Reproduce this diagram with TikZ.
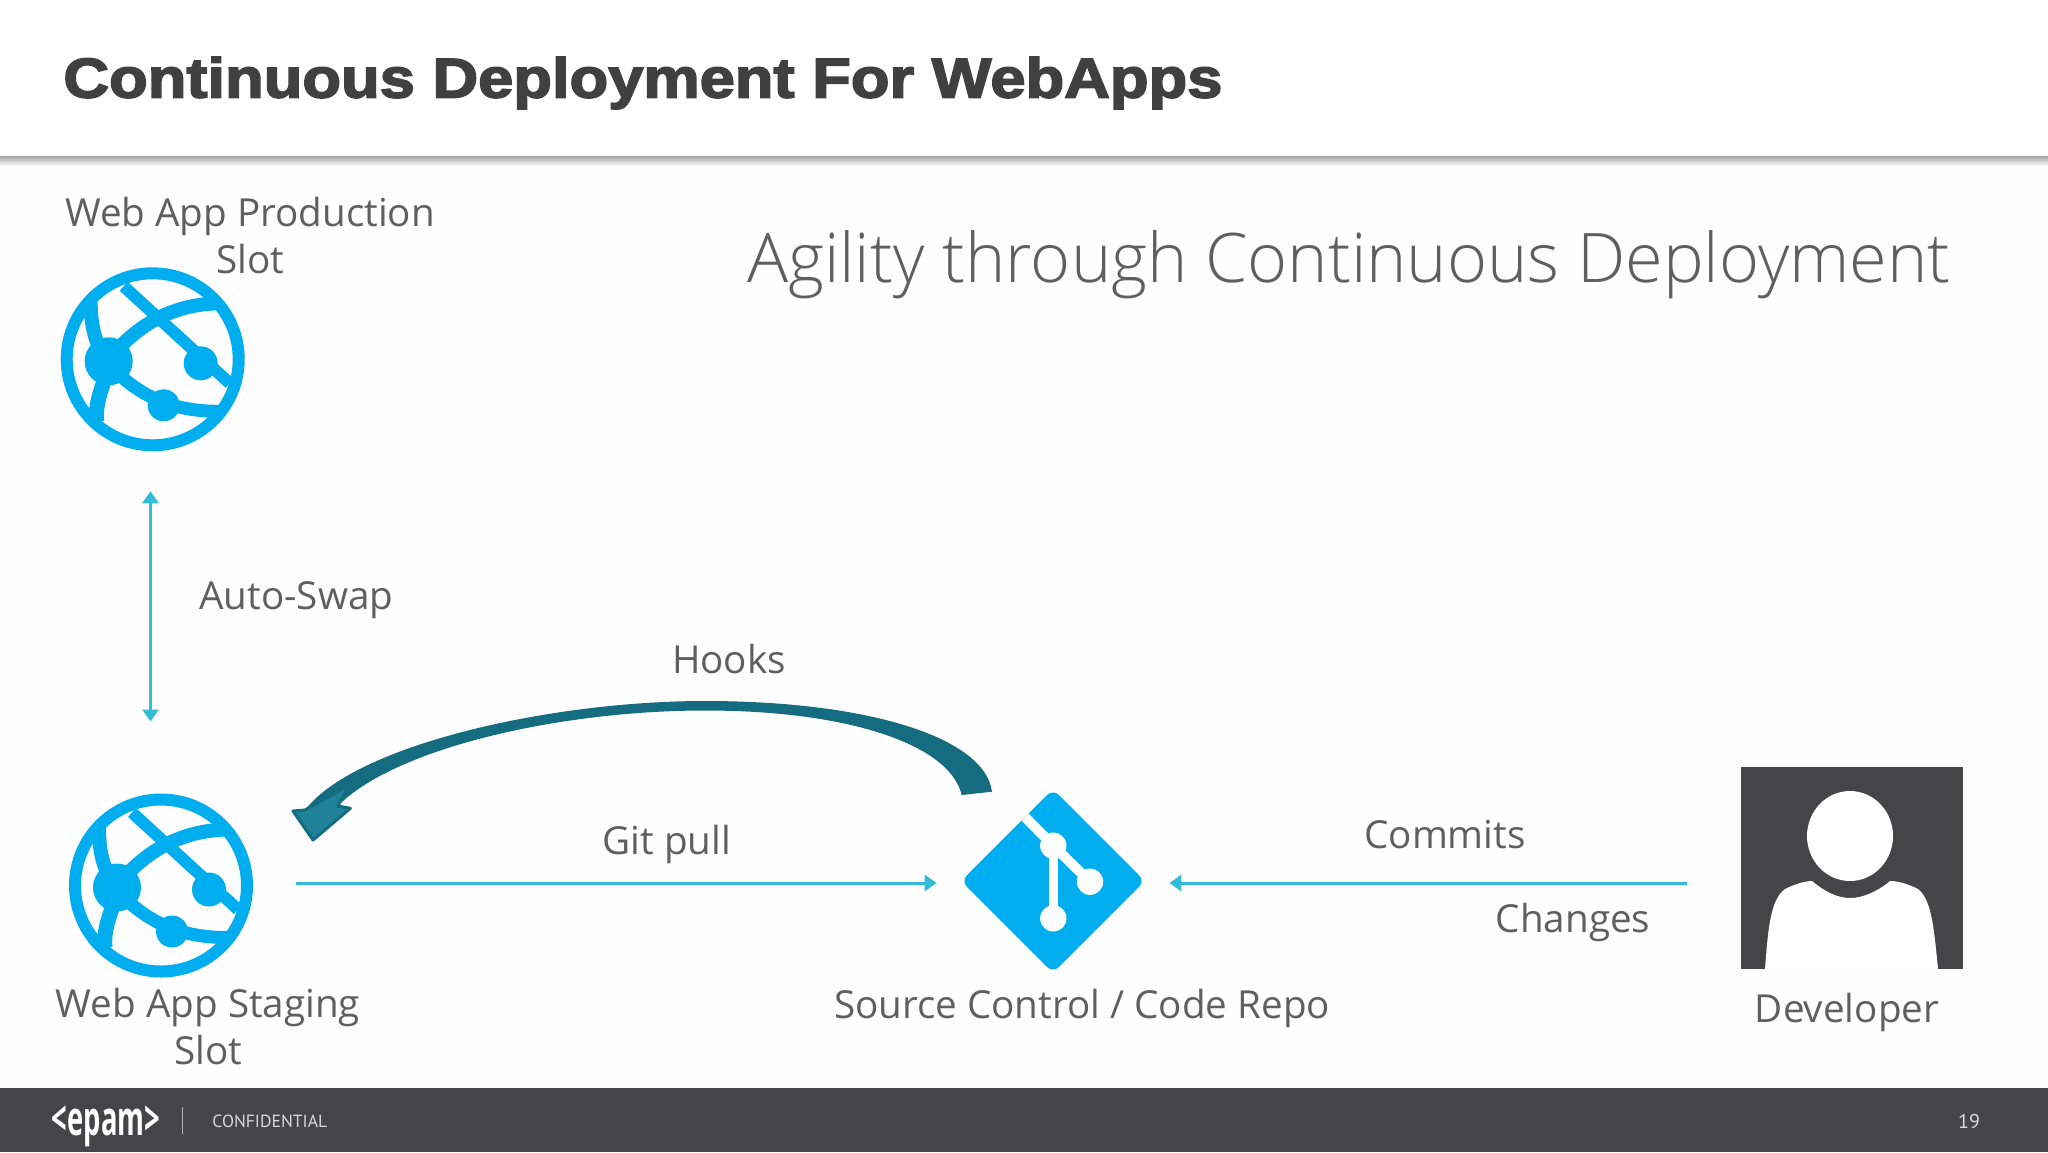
\documentclass[tikz,border=0pt]{standalone}
\usepackage{fontspec}
\setmainfont{Open Sans}
\newfontfamily\lightfont{Open Sans Light}
\newfontfamily\titlefont[FakeBold=3,FakeStretch=1.13]{Liberation Sans Bold}
\newfontfamily\footfont{PT Sans}
\usetikzlibrary{arrows.meta,shapes.geometric,positioning}
\definecolor{azure}{HTML}{00AEEF}
\definecolor{linkblue}{HTML}{33BCD8}
\definecolor{hookteal}{HTML}{156B80}
\definecolor{hookhead}{HTML}{1F8299}
\definecolor{slate}{HTML}{454447}
\definecolor{labelgray}{HTML}{5F5F5F}
\tikzset{
  label text/.style = {font=\fontsize{19.3}{23.5}\selectfont, text=labelgray, align=center, inner sep=0pt},
  foot text/.style  = {font=\footfont\fontsize{8.8}{10}\selectfont, text=white!85!black, inner sep=0pt},
  link/.style       = {draw=linkblue, line width=1.5pt},
  globe ring/.style = {circle, draw=azure, line width=6pt, minimum size=86pt, inner sep=0pt},
  repo box/.style   = {diamond, fill=azure, minimum width=92pt, minimum height=92pt, inner sep=0pt, rounded corners=4pt},
  globe/.pic = {
    \draw[azure, line width=6pt] (-29,-73) -- (77,24);
    \draw[azure, line width=7pt] (-44,0) .. controls (-15,-35) and (20,-55) .. (66,-56);
    \draw[azure, line width=6.5pt] (-44,5) .. controls (-20,30) and (10,52) .. (66,52);
    \draw[azure, line width=7pt] (-47,0) .. controls (-60,-20) and (-62,-40) .. (-62,-58);
    \draw[azure, line width=7.5pt] (-44,10) .. controls (-50,25) and (-58,45) .. (-56,62);
    \fill[azure] (-44,2) circle (12pt) (48,4) circle (8.5pt) (11,46) circle (8pt);
  }
}

\begin{document}
\begin{tikzpicture}[x=0.5pt, y=-0.5pt, >={Triangle[length=6pt,width=8pt]}]
\useasboundingbox (0,0) rectangle (2048,1152);
\fill[white!99.5!black] (0,0) rectangle (2048,1152);

% header
\fill[white] (0,0) rectangle (2048,156);
\shade[top color=black!35, bottom color=white!99.5!black] (0,156) rectangle (2048,166);
\node[anchor=west, inner sep=0pt, text=black!75, font=\titlefont\fontsize{28}{30}\selectfont] (title) at (63,83) {Continuous Deployment For WebApps};
\node[label text, font=\lightfont\fontsize{34.2}{40}\selectfont, anchor=east] (agility) at (1951,265) {Agility through Continuous Deployment};

% footer
\fill[slate] (0,1088) rectangle (2048,1152);
\node[foot text, font=\bfseries\fontsize{19}{20}\selectfont, text=white, xscale=0.72, yscale=1.25] (logo) at (106,1126) {<epam>};
\draw[white!60!slate] (182,1107) -- (182,1134);
\node[foot text, anchor=west] (conf) at (212,1121) {CONFIDENTIAL};
\node[foot text, font=\footfont\fontsize{10}{12}\selectfont] (page) at (1969,1121) {19};

% the two slots
\foreach \name/\xpos/\ypos in {prod/152.7/359.3, staging/161/885.5} {
  \node[globe ring] (\name) at (\xpos,\ypos) {};
  \pic at (\name) {globe};
}

% repo
\node[repo box] (repo) at (1053,881) {};
\draw[white, line width=5pt] (1025,817) -- (1053.3,845.7) -- (1090,881.7);
\draw[white, line width=4.5pt] (1053.3,845.7) -- (1053.3,918.3);
\fill[white] (1053.3,845.7) circle (6.6pt) (1090,881.7) circle (6.6pt) (1053.3,918.3) circle (6.6pt);

% developer
\node[fill=slate, minimum width=111pt, minimum height=101pt, inner sep=0pt] (dev) at (1852,868) {};
\fill[white] (1850,836) ellipse (21.5pt and 22.5pt);
\fill[white] (1765,969) .. controls (1768,930) and (1770,900) .. (1785,889)
  .. controls (1795,884) and (1805,881) .. (1812,881)
  .. controls (1825,892) and (1838,898) .. (1850,898)
  .. controls (1862,898) and (1877,892) .. (1890,881)
  .. controls (1898,881) and (1908,884) .. (1918,889)
  .. controls (1932,900) and (1934,930) .. (1938,969) -- cycle;

% labels
\node[label text] (prodlabel) at (250,236) {Web App Production\\Slot};
\node[label text] (staginglabel) at (208,1027) {Web App Staging\\Slot};
\node[label text] (repolabel) at (1082,1008) {Source Control / Code Repo};
\node[label text] (devlabel) at (1847,1012) {Developer};
\node[label text, anchor=west] (swaplabel) at (199,600) {Auto-Swap};
\node[label text] (hookslabel) at (729,659) {Hooks};
\node[label text] (pulllabel) at (667,844) {Git pull};
\node[label text] (commitslabel) at (1445,835) {Commits};
\node[label text] (changeslabel) at (1573,922) {Changes};

% connectors
\draw[link, <->, shorten <=20pt, shorten >=36pt] ([xshift=-1.1pt]prod.south) -- ([xshift=-1.1pt]prod.south |- staging.north);
\draw[link, ->, shorten <=21.5pt, shorten >=12pt] ([yshift=-1pt]staging.east |- repo.west) -- ([yshift=-1pt]repo.west);
\draw[link, ->, shorten <=27pt, shorten >=12pt] ([yshift=-1pt]dev.west |- repo.east) -- ([yshift=-1pt]repo.east);

% hook arrow
\coordinate (hooktail) at (992,791.7);
\coordinate (hooktip) at (313,840);
\fill[hookteal] (hooktail) .. controls (985,738) and (870,701) .. (705,701)
  .. controls (550,701) and (355,745) .. (305,810)
  -- (337.7,806)
  .. controls (395,748) and (560,710.5) .. (705,710.5)
  .. controls (850,710.5) and (950,745) .. (961.7,795) -- cycle;
\filldraw[fill=hookhead, draw=hookteal, line width=1.5pt, line join=round] (305,810) -- (293,811) -- (hooktip) -- (350.4,808.3) -- (337.7,806) -- (350,785) -- cycle;
\end{tikzpicture}
\end{document}
